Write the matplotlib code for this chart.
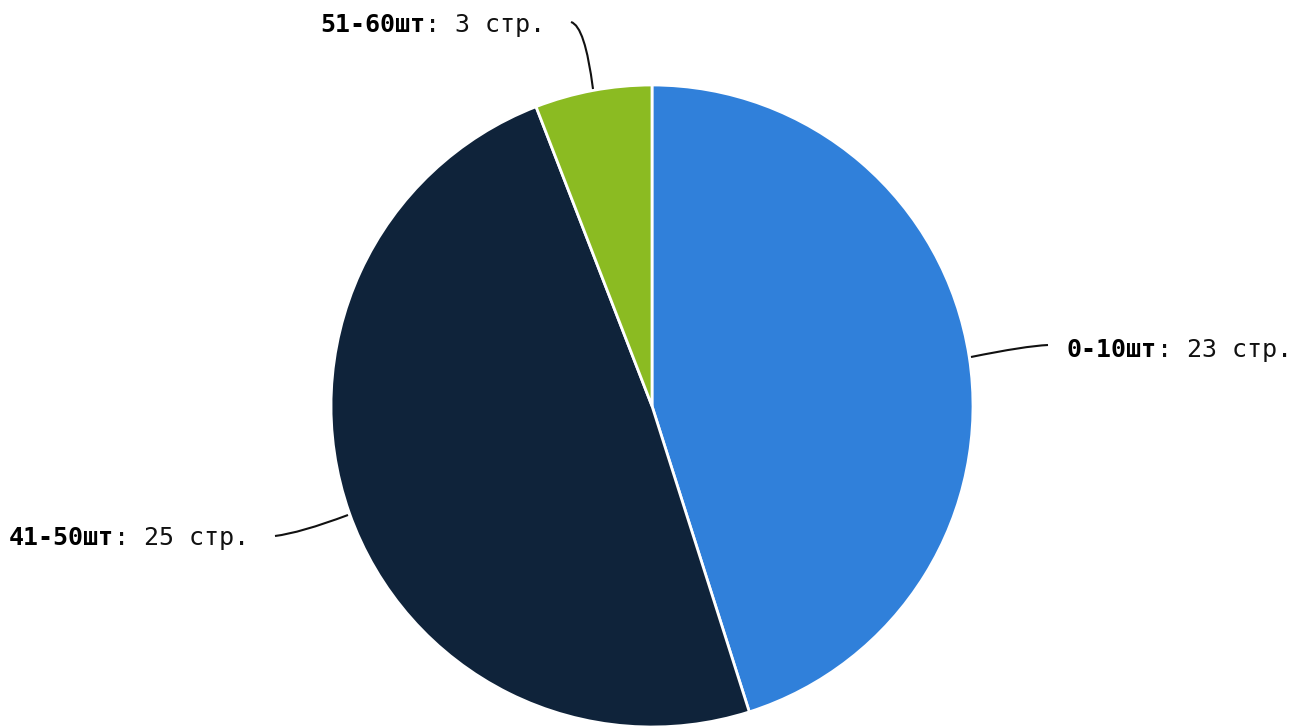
import matplotlib
matplotlib.use("Agg")
import matplotlib.pyplot as plt
from matplotlib.path import Path
from matplotlib.patches import PathPatch

categories = ["0-10шт", "41-50шт", "51-60шт"]
values = [23, 25, 3]
unit = "стр."
colors = ["#3080DA", "#0F233A", "#8BBB22"]

W, H = 1304, 727
fig = plt.figure(figsize=(W / 100, H / 100), dpi=100)
ax = fig.add_axes([0, 0, 1, 1])

cx, cy, r = 652, H - 406, 321
ax.pie(values, colors=colors, startangle=90, counterclock=False,
       center=(cx, cy), radius=r, frame=True,
       wedgeprops=dict(edgecolor="white", linewidth=2))
ax.set_xlim(0, W)
ax.set_ylim(0, H)
ax.set_aspect("equal")
ax.axis("off")

# connectors (start on edge, control, end) in pixel coords (y down)
connectors = [
    [(971, 357), (1025, 346), (1048, 345)],
    [(348, 515), (300, 533), (275, 536)],
    [(593, 89), (585, 26), (571, 22)],
]
label_pos = [(1067, 350), (9, 538), (320, 25)]

fs = 18
for cat, val, con, (lx, ly) in zip(categories, values, connectors, label_pos):
    pts = [(x, H - y) for x, y in con]
    path = Path(pts, [Path.MOVETO, Path.CURVE3, Path.CURVE3])
    ax.add_patch(PathPatch(path, facecolor="none", edgecolor="#111111", lw=1.5))
    t = ax.text(lx, H - ly, cat, fontsize=fs, fontweight="bold",
                family="DejaVu Sans Mono", ha="left", va="center", color="#000000")
    ax.annotate(f": {val} {unit}", xy=(1, 0), xycoords=t, ha="left", va="bottom",
                fontsize=fs, family="DejaVu Sans Mono", color="#111111")

fig.savefig("out.png", dpi=100)
